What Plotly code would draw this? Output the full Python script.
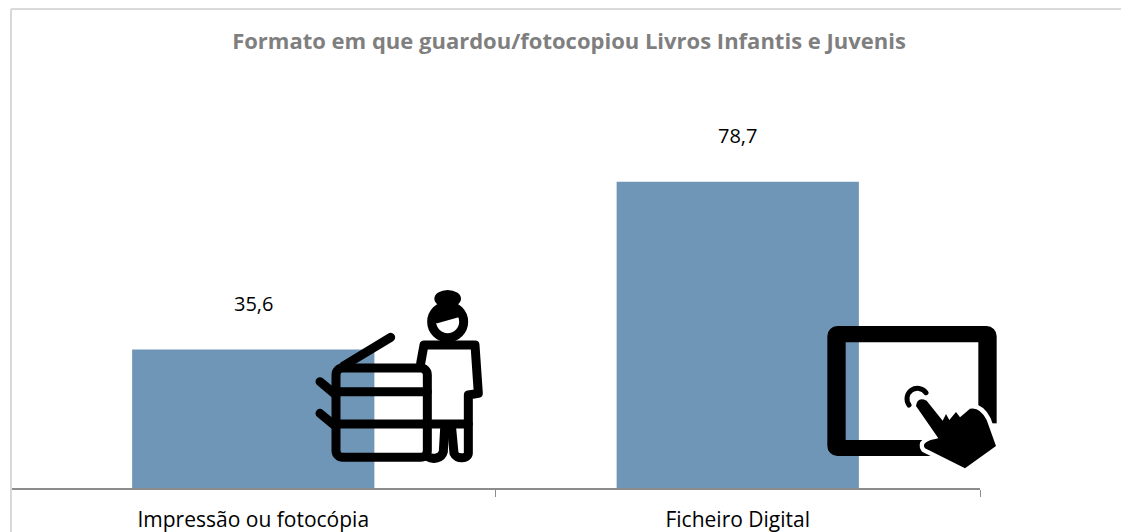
import base64
import plotly.graph_objects as go

categories = ["Impressão ou fotocópia", "Ficheiro Digital"]
values = [35.6, 78.7]
value_labels = ["35,6", "78,7"]
title_text = "Formato em que guardou/fotocopiou Livros Infantis e Juvenis"

W, H = 1121, 532
L, R, T, B = 11, 141, 99, 44
FONT = "Open Sans"

copier_svg = """<svg xmlns='http://www.w3.org/2000/svg' width='600' height='756' viewBox='0 0 600 756'>
<g fill='none' stroke='black' stroke-width='27' stroke-linecap='round' stroke-linejoin='round'>
<rect x='108' y='264' width='274' height='268' rx='20'/>
<path d='M108 335H382M108 432H505'/>
<path d='M130 258L272 172'/>
<path d='M60 305L108 345M60 400L108 440'/>
<path d='M362 250L372 195H525L535 340L505 345V520C505 535 470 540 462 520L455 445'/>
<path d='M382 530C400 540 425 535 430 515L434 445'/>
<circle cx='443' cy='125' r='48'/>
</g>
<path d='M395 125A48 48 0 0 1 491 125L476 112L412 130Z' fill='black'/>
<ellipse cx='443' cy='56' rx='40' ry='26' fill='black'/>
</svg>"""

tablet_svg = """<svg xmlns='http://www.w3.org/2000/svg' width='600' height='500' viewBox='0 0 600 500'>
<path fill-rule='evenodd' fill='black' d='M82 48H530A30 30 0 0 1 560 78V408A30 30 0 0 1 530 438H82A30 30 0 0 1 52 408V78A30 30 0 0 1 82 48ZM107 97V390H505V97Z'/>
<rect x='506' y='340' width='60' height='104' fill='white'/>
<path d='M318 288Q322 258 350 272L398 325L410 315L420 325L440 310L448 318L480 298Q510 290 530 330L558 408L465 475L345 415Q330 395 385 385Z' fill='black' stroke='white' stroke-width='26' stroke-linejoin='round'/>
<path d='M318 288Q322 258 350 272L398 332L408 312L418 330L438 306L450 322L480 296Q510 290 530 330L558 408L465 475L345 415Q330 395 385 385Z' fill='black'/>
<path d='M297 285A28 28 0 0 1 348 248' fill='none' stroke='black' stroke-width='15' stroke-linecap='round'/>
</svg>"""


def svg_uri(svg):
    return "data:image/svg+xml;base64," + base64.b64encode(svg.encode()).decode()


def paper_x(px):
    return (px - L) / (W - L - R)


def paper_y(py):
    return 1 - (py - T) / (H - T - B)


def icon(svg, left, top, width, height):
    return dict(
        source=svg_uri(svg), xref="paper", yref="paper",
        x=paper_x(left), y=paper_y(top),
        sizex=width / (W - L - R), sizey=height / (H - T - B),
        xanchor="left", yanchor="top", sizing="stretch", layer="above",
    )


fig = go.Figure(
    go.Bar(
        x=categories,
        y=values,
        width=0.5,
        marker=dict(color="#6F96B7", line=dict(width=0)),
    )
)
for cat, val, label in zip(categories, values, value_labels):
    fig.add_annotation(
        x=cat, y=val, text=label, showarrow=False, yshift=46,
        yanchor="middle", font=dict(family=FONT, size=20, color="#000000"),
    )

border = dict(color="#D9D9D9", width=2)
fig.add_shape(type="line", xref="paper", yref="paper", x0=paper_x(11), x1=paper_x(11),
              y0=paper_y(9), y1=paper_y(532), line=border)
fig.add_shape(type="line", xref="paper", yref="paper", x0=paper_x(11), x1=paper_x(1121),
              y0=paper_y(9), y1=paper_y(9), line=border)

fig.update_layout(
    width=W,
    height=H,
    autosize=False,
    margin=dict(l=L, r=R, t=T, b=B, pad=0),
    paper_bgcolor="white",
    plot_bgcolor="white",
    showlegend=False,
    title=dict(
        text=f"<b>{title_text}</b>",
        x=569 / W,
        xanchor="center",
        y=1 - 41 / H,
        yanchor="middle",
        font=dict(family=FONT, size=22, color="#7F7F7F"),
    ),
    xaxis=dict(
        automargin=False,
        showline=True,
        linecolor="#8C8C8C",
        linewidth=1.5,
        ticks="outside",
        tickson="boundaries",
        ticklen=7,
        tickwidth=1,
        tickcolor="#8C8C8C",
        ticklabelstandoff=12,
        tickfont=dict(family=FONT, size=21, color="#000000"),
    ),
    yaxis=dict(range=[0, 100], visible=False, fixedrange=True),
    images=[icon(copier_svg, 300, 280, 200, 252), icon(tablet_svg, 810, 310, 200, 500 / 3)],
)
fig.write_html("out.html", config=dict(displayModeBar=False), post_script="document.body.style.margin='0';")
